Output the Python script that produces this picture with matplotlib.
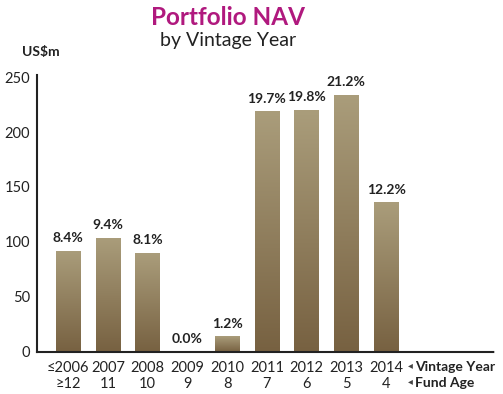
import numpy as np
import matplotlib.pyplot as plt
from matplotlib.colors import LinearSegmentedColormap

plt.rcParams['font.family'] = ['Lato', 'DejaVu Sans']

years = ['≤2006', '2007', '2008', '2009', '2010', '2011', '2012', '2013', '2014']
ages = ['≥12', '11', '10', '9', '8', '7', '6', '5', '4']
nav = [92, 104, 90, 0, 14, 219, 220, 234, 136]
pct = ['8.4%', '9.4%', '8.1%', '0.0%', '1.2%', '19.7%', '19.8%', '21.2%', '12.2%']
yticks = [0, 50, 100, 150, 200, 250]

fig = plt.figure(figsize=(5.03, 3.94), dpi=100)
ax = fig.add_axes([0.074, 0.107, 0.91, 0.703])

x = np.arange(len(years))
bars = ax.bar(x, nav, width=0.62, color='none', edgecolor='none', zorder=2)

# vertical gradient inside each bar
cmap = LinearSegmentedColormap.from_list('bronze', ['#776141', '#aa9d7b'])
grad = np.linspace(0, 1, 256).reshape(-1, 1)
for b in bars:
    if b.get_height() <= 0:
        continue
    x0, y0 = b.get_x(), b.get_y()
    im = ax.imshow(grad, cmap=cmap, origin='lower', aspect='auto',
                   extent=(x0, x0 + b.get_width(), y0, y0 + b.get_height()), zorder=2)
    im.set_clip_path(b)

for xi, v, p in zip(x, nav, pct):
    ax.text(xi, v + 6, p, ha='center', va='bottom', fontsize=10, fontweight='bold', color='#222222')

ax.set_xlim(-0.78, 10.74)
ax.set_ylim(0, 252)
ax.set_yticks(yticks)
ax.set_xticks([])
ax.tick_params(axis='y', length=0, labelsize=10.5, labelcolor='#222222', pad=5)
for s in ['top', 'right']:
    ax.spines[s].set_visible(False)
for s in ['left', 'bottom']:
    ax.spines[s].set_linestyle((0, (1, 1)))
    ax.spines[s].set_linewidth(1.5)
    ax.spines[s].set_color('#222222')

for xi, yr, ag in zip(x, years, ages):
    ax.text(xi, -8, yr, ha='center', va='top', fontsize=10.5, color='#222222')
    ax.text(xi, -23, ag, ha='center', va='top', fontsize=10.5, color='#222222')
for yy, lab in [(-8, 'Vintage Year'), (-23, 'Fund Age')]:
    ax.text(8.55, yy - 4.5, '◂', ha='left', va='center', fontsize=7, color='#444444')
    ax.text(8.72, yy, lab, ha='left', va='top', fontsize=10, fontweight='bold', color='#222222')

fig.text(0.453, 0.955, 'Portfolio NAV', ha='center', va='center', fontsize=17.5, fontweight='bold', color='#b0197e')
fig.text(0.453, 0.897, 'by Vintage Year', ha='center', va='center', fontsize=14, color='#222222')
fig.text(0.044, 0.868, 'US$m', ha='left', va='center', fontsize=10, fontweight='bold', color='#222222')

fig.savefig('out.png', dpi=100)
